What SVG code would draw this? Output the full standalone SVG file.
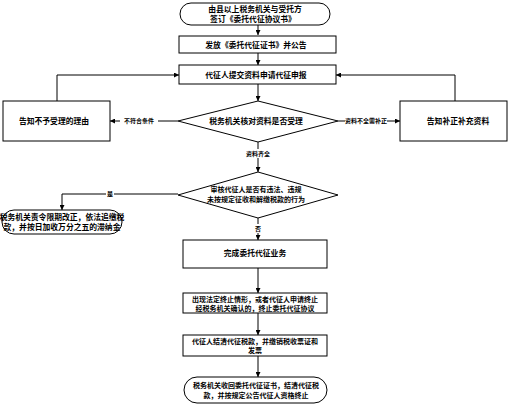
<svg xmlns="http://www.w3.org/2000/svg" width="510" height="409" viewBox="0 0 510 409">
<style>
.n{fill:#fff;stroke:#000;stroke-width:1}
.t{font-family:"Noto Sans CJK SC","Liberation Sans",sans-serif;font-size:7.8px;font-weight:bold;fill:#000;text-anchor:middle}
.s{font-size:7px}
.l{font-family:"Noto Sans CJK SC","Liberation Sans",sans-serif;font-size:6px;font-weight:bold;fill:#000;text-anchor:middle}
.c{fill:none;stroke:#000;stroke-width:1}
</style>
<defs>
<marker id="a" viewBox="0 0 6 6" refX="6" refY="3" markerWidth="5" markerHeight="5" orient="auto"><path d="M0,0L6,3L0,6z" fill="#000"/></marker>
</defs>
<rect width="510" height="409" fill="#fff"/>
<g id="connectors">
<path class="c" d="M258,25V35" marker-end="url(#a)"/>
<path class="c" d="M258,53V65" marker-end="url(#a)"/>
<path class="c" d="M258,84V101" marker-end="url(#a)"/>
<path class="c" d="M178,121H110" marker-end="url(#a)"/>
<path class="c" d="M338,121H400" marker-end="url(#a)"/>
<path class="c" d="M57,101V75H179" marker-end="url(#a)"/>
<path class="c" d="M455,101V75H336" marker-end="url(#a)"/>
<path class="c" d="M258,142V172" marker-end="url(#a)"/>
<path class="c" d="M178,194H62V210" marker-end="url(#a)"/>
<path class="c" d="M258,218V240" marker-end="url(#a)"/>
<path class="c" d="M258,268V293" marker-end="url(#a)"/>
<path class="c" d="M258,313V335" marker-end="url(#a)"/>
<path class="c" d="M258,356V377" marker-end="url(#a)"/>
<rect x="120" y="116" width="38" height="9" fill="#fff"/>
<text class="l" x="139" y="123">不符合条件</text>
<rect x="345" y="116" width="42" height="9" fill="#fff"/>
<text class="l" x="366" y="123">资料不全需补正</text>
<rect x="244" y="149" width="28" height="9" fill="#fff"/>
<text class="l" x="258" y="156">资料齐全</text>
<rect x="106" y="189" width="8" height="9" fill="#fff"/>
<text class="l" x="110" y="196">是</text>
<rect x="254" y="224" width="8" height="9" fill="#fff"/>
<text class="l" x="258" y="231">否</text>
</g>
<g id="n1"><rect class="n" x="180" y="3" width="150" height="22" rx="11"/><text class="t" x="255" y="12">由县以上税务机关与受托方</text><text class="t" x="253" y="22">签订《委托代征协议书》</text></g>
<g id="n2"><rect class="n" x="179" y="36" width="157" height="17"/><text class="t" x="256" y="47.5">发放《委托代征证书》并公告</text></g>
<g id="n3"><rect class="n" x="179" y="65" width="157" height="19"/><text class="t" x="256" y="77.5">代征人提交资料申请代征申报</text></g>
<g id="n4"><rect class="n" x="3" y="101" width="107" height="40"/><text class="t" x="54" y="124">告知不予受理的理由</text></g>
<g id="n5"><path class="n" d="M258,101L338,121L258,142L178,121Z"/><text class="t" x="256" y="124">税务机关核对资料是否受理</text></g>
<g id="n6"><rect class="n" x="400" y="101" width="107" height="40"/><text class="t" x="458" y="124">告知补正补充资料</text></g>
<g id="n7"><path class="n" d="M258,172L338,195L258,218L178,195Z"/><text class="t s" x="256" y="192">审核代征人是否有违法、违规</text><text class="t s" x="256" y="201.5">未按规定征收和解缴税款的行为</text></g>
<g id="n8"><rect class="n" x="2" y="210" width="120" height="24" rx="12"/><text class="t" x="62" y="220" font-size="6.6">税务机关责令限期改正，依法追缴税</text><text class="t" x="62" y="230" font-size="6.6">款，并按日加收万分之五的滞纳金</text></g>
<g id="n9"><rect class="n" x="183" y="240" width="144" height="28"/><text class="t" x="255" y="256">完成委托代征业务</text></g>
<g id="n10"><rect class="n" x="183" y="293" width="144" height="20"/><text class="t s" x="255" y="301.5">出现法定终止情形，或者代征人申请终止</text><text class="t s" x="255" y="310.5">经税务机关确认的，终止委托代征协议</text></g>
<g id="n11"><rect class="n" x="183" y="335" width="144" height="21"/><text class="t s" x="255" y="344">代征人结清代征税款，并缴销税收票证和</text><text class="t s" x="255" y="353">发票</text></g>
<g id="n12"><rect class="n" x="184" y="377" width="143" height="26" rx="13"/><text class="t s" x="256" y="388">税务机关收回委托代征证书，结清代征税</text><text class="t s" x="256" y="397.5">款，并按规定公告代征人资格终止</text></g>
</svg>
